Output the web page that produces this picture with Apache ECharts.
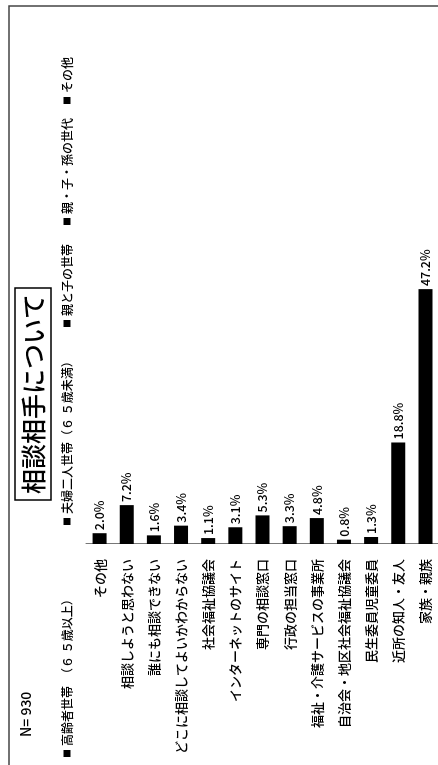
<!DOCTYPE html>
<html>
<head>
<meta charset="utf-8">
<script src="https://cdn.jsdelivr.net/npm/echarts@6/dist/echarts.min.js"></script>
<style>
  html, body { margin: 0; padding: 0; width: 438px; height: 765px; overflow: hidden; background: #fff; }
  /* The chart is laid out landscape and turned a quarter turn counter-clockwise. */
  #chart {
    position: absolute; left: 0; top: 0;
    width: 765px; height: 440px;
    transform-origin: 0 0;
    transform: translate(0, 765px) rotate(-90deg);
  }
</style>
</head>
<body>
<div id="chart"></div>
<script>
// Answer categories, listed top to bottom
const categories = [
  'その他',
  '相談しようと思わない',
  '誰にも相談できない',
  'どこに相談してよいかわからない',
  '社会福祉協議会',
  'インターネットのサイト',
  '専門の相談窓口',
  '行政の担当窓口',
  '福祉・介護サービスの事業所',
  '自治会・地区社会福祉協議会',
  '民生委員児童委員',
  '近所の知人・友人',
  '家族・親族'
];
// Share of respondents (%)
const shares = [2.0, 7.2, 1.6, 3.4, 1.1, 3.1, 5.3, 3.3, 4.8, 0.8, 1.3, 18.8, 47.2];
// Household types listed in the legend
const householdTypes = [
  '高齢者世帯　（６ ５歳以上）',
  '夫婦二人世帯（６ ５歳未満）',
  '親と子の世帯',
  '親・子・孫の世代',
  'その他'
];
const sampleLabel = 'N= 930';
const titleText = '相談相手について';

const FONT = '"Noto Sans CJK JP", "Noto Sans", sans-serif';
const legendLeft = [8, 240, 438, 540, 661];

const chart = echarts.init(document.getElementById('chart'), null, { renderer: 'canvas' });

chart.setOption({
  backgroundColor: '#fff',
  animation: false,
  textStyle: { fontFamily: FONT, color: '#000' },
  title: {
    text: titleText,
    left: 265,
    top: 15,
    padding: [3, 6],
    borderWidth: 1.5,
    borderColor: '#000',
    textStyle: { fontFamily: FONT, fontSize: 25, fontWeight: 500, color: '#000', lineHeight: 30 }
  },
  legend: householdTypes.map((name, i) => ({
    data: [name],
    left: legendLeft[i],
    top: 61,
    padding: 0,
    icon: 'rect',
    itemWidth: 7,
    itemHeight: 7,
    itemGap: 0,
    selectedMode: false,
    textStyle: { fontFamily: FONT, fontSize: 12, fontWeight: 500, color: '#000', padding: [0, 0, 0, -1] }
  })),
  grid: { left: 221, top: 86, width: 270, height: 353, containLabel: false },
  xAxis: { type: 'value', min: 0, max: 50, show: false },
  yAxis: {
    type: 'category',
    data: categories,
    inverse: true,
    axisTick: { show: false },
    axisLine: { show: true, lineStyle: { color: '#777', width: 1 } },
    axisLabel: { margin: 15, fontFamily: FONT, fontSize: 13, fontWeight: 500, color: '#000' }
  },
  graphic: [
    {
      type: 'rect',
      silent: true,
      shape: { x: -5, y: 9, width: 764, height: 450 },
      style: { fill: 'none', stroke: '#444', lineWidth: 1.5 }
    },
    {
      type: 'text',
      silent: true,
      x: 28, y: 26,
      style: { text: sampleLabel, font: '500 14px ' + FONT, fill: '#000', verticalAlign: 'middle' }
    }
  ],
  series: [
    {
      name: '相談相手',
      type: 'bar',
      data: shares,
      barWidth: 14,
      itemStyle: { color: '#000' },
      label: {
        show: true,
        position: 'right',
        distance: 3,
        fontFamily: FONT,
        fontSize: 12.5,
        fontWeight: 500,
        color: '#000',
        formatter: p => p.value.toFixed(1) + '%'
      }
    }
  ].concat(householdTypes.map(name => ({
    name: name,
    type: 'line',
    data: [],
    itemStyle: { color: '#000' }
  })))
});
</script>
</body>
</html>
